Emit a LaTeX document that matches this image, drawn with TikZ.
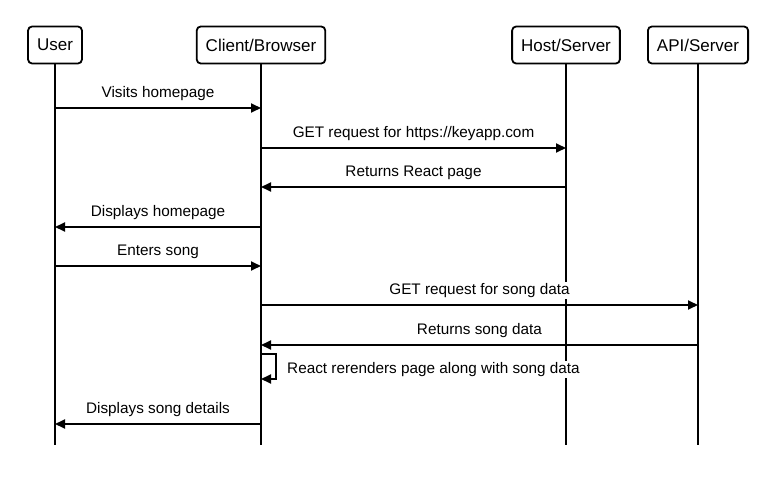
\documentclass[tikz,border=0pt]{standalone}
\usepackage{fontspec}
\setmainfont{Liberation Sans}
\usetikzlibrary{arrows.meta}

\tikzset{
	actor/.style={draw, rounded corners=4pt, line width=1.8pt, minimum height=37pt, inner xsep=9pt, font=\fontsize{17}{20}\selectfont},
	life/.style={line width=1.8pt},
	msg/.style={line width=1.8pt, -{Triangle[length=10pt, width=9pt]}},
	txt/.style={fill=white, inner sep=1pt, font=\fontsize{15.3}{18}\selectfont},
	lbl/.style={txt, yshift=14.5pt}
}

\begin{document}
\begin{tikzpicture}[x=1pt, y=-1pt]
	\useasboundingbox (0,0) rectangle (776,487);

	% participants
	\node[actor] (user) at (55,45) {User};
	\node[actor] (client) at (261,45) {Client/Browser};
	\node[actor] (host) at (566,45) {Host/Server};
	\node[actor] (api) at (698,45) {API/Server};

	% rows of the messages
	\coordinate (end) at (0,445);
	\coordinate (r1) at (0,108);
	\coordinate (r2) at (0,148);
	\coordinate (r3) at (0,187);
	\coordinate (r4) at (0,227);
	\coordinate (r5) at (0,266);
	\coordinate (r6) at (0,305);
	\coordinate (r7) at (0,345);
	\coordinate (r8a) at (0,354);
	\coordinate (r8b) at (0,379);
	\coordinate (r9) at (0,424);
	\coordinate (loop) at (276,0);

	% lifelines
	\foreach \p in {user, client, host, api}
		\draw[life] (\p.south) -- (\p |- end);

	\draw[msg] (user |- r1) -- node[lbl] {Visits homepage} (client |- r1);
	\draw[msg] (client |- r2) -- node[lbl] {GET request for https://keyapp.com} (host |- r2);
	\draw[msg] (host |- r3) -- node[lbl] {Returns React page} (client |- r3);
	\draw[msg] (client |- r4) -- node[lbl] {Displays homepage} (user |- r4);
	\draw[msg] (user |- r5) -- node[lbl] {Enters song} (client |- r5);
	\draw[msg] (client |- r6) -- node[lbl] {GET request for song data} (api |- r6);
	\draw[msg] (api |- r7) -- node[lbl] {Returns song data} (client |- r7);
	\draw[msg] (client |- r8a) -| (loop |- r8b) -- (client |- r8b);
	\node[txt, anchor=west] (rerender) at (286,369.5) {React rerenders page along with song data};
	\draw[msg] (client |- r9) -- node[lbl] {Displays song details} (user |- r9);
\end{tikzpicture}
\end{document}
